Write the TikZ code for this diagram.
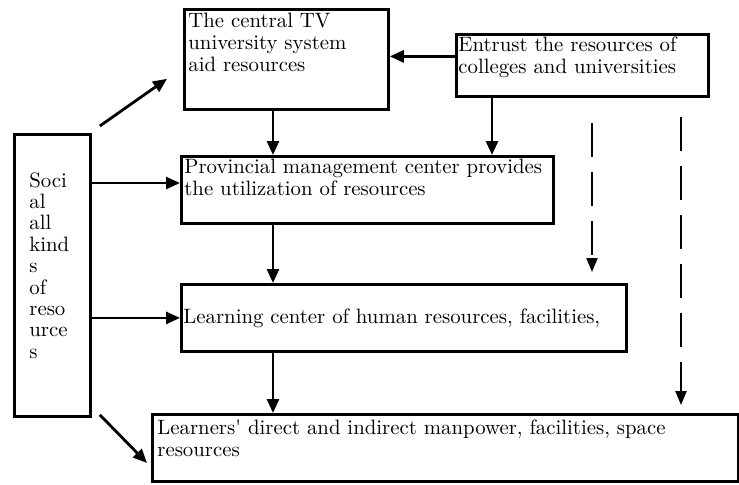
\documentclass[tikz,border=0pt]{standalone}
\usetikzlibrary{arrows.meta}

\begin{document}
\begin{tikzpicture}[x=0.5pt,y=-0.5pt,
    box/.style={draw, line width=1.4pt, anchor=north west, inner sep=0pt},
    txt/.style={anchor=north west, align=left, inner sep=2.5pt, font=\fontsize{10.4}{11}\selectfont},
    arr/.style={line width=1.4pt, -{Triangle[length=7pt,width=6pt]}},
    dasharr/.style={line width=1.1pt, dash pattern=on 17pt off 7.5pt, -{Triangle[length=7pt,width=5.5pt]}}]
    \useasboundingbox (0,0) rectangle (739,484);
    % the boxes
    \node[box, minimum width=102pt, minimum height=50pt,
        label={[txt]north west:{The central TV\\university system\\aid resources}}] (central) at (183,8) {};
    \node[box, minimum width=126pt, minimum height=31pt,
        label={[txt, inner sep=1.5pt]north west:{Entrust the resources of\\colleges and universities}}] (entrust) at (455,33) {};
    \node[box, minimum width=186pt, minimum height=33.5pt,
        label={[txt, inner sep=2pt]north west:{Provincial management center provides\\the utilization of resources}}] (prov) at (180,155) {};
    \node[box, minimum width=222.5pt, minimum height=33.5pt,
        label={[txt, anchor=west, inner sep=1.5pt]west:{Learning center of human resources, facilities,}}] (learn) at (180,283) {};
    \node[box, minimum width=293pt, minimum height=33.5pt,
        label={[txt, inner sep=3pt]north west:{Learners\textquotesingle{} direct and indirect manpower, facilities, space\\resources}}] (learners) at (151,413) {};
    \node[box, minimum width=38pt, minimum height=141pt,
        label={[txt, xshift=5.5pt, yshift=-17pt, font=\fontsize{10.4}{10.7}\selectfont]north west:{Soci\\al\\all\\kind\\s\\of\\reso\\urce\\s}}] (social) at (13,133) {};
    % vertical lines through the middle and the dashed columns
    \coordinate (spine) at (273,0);
    \coordinate (colB) at (492,0);
    \coordinate (d1a) at (592,123);
    \coordinate (d1b) at (592,272);
    \coordinate (d2a) at (681,117);
    \coordinate (d2b) at (681,405);
    % arrows
    \draw[arr] ([shift={(8,-7)}]social.north east) -- ([shift={(-16,-32)}]central.south west);
    \draw[arr] ([shift={(0,-9)}]entrust.west) -- ([shift={(0,-9)}]entrust.west -| central.east);
    \draw[arr] (spine |- central.south) -- (spine |- prov.north);
    \draw[arr] (colB |- entrust.south) -- (colB |- prov.north);
    \draw[arr] (social.east |- 0,183) -- (prov.west |- 0,183);
    \draw[arr] (spine |- prov.south) -- (spine |- learn.north);
    \draw[arr] (social.east |- learn.west) -- (learn.west);
    \draw[arr] (spine |- learn.south) -- (spine |- learners.north);
    \draw[arr] ([shift={(8,-3)}]social.south east) -- ([shift={(-4,50)}]learners.north west);
    \draw[dasharr] (d1a) -- (d1b);
    \draw[dasharr] (d2a) -- (d2b);
\end{tikzpicture}
\end{document}
